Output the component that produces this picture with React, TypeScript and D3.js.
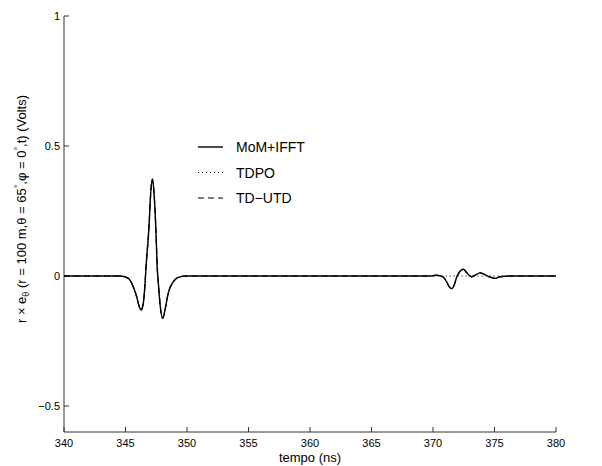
import React from "react";
import * as d3 from "d3";

// ---- data ----
const xTicks = [340, 345, 350, 355, 360, 365, 370, 375, 380];
const yTicks = [-0.5, 0, 0.5, 1];
const yTickLabels = ["\u22120.5", "0", "0.5", "1"];

const momTime = [340, 344.55, 345.23, 345.63, 345.91, 346.12, 346.26, 346.45, 346.59, 346.67, 346.91, 347.05, 347.18, 347.32, 347.46, 347.59, 347.67, 347.8, 348.02, 348.21, 348.48, 348.89, 349.29, 349.98, 360, 368.13, 369.76, 370.3, 370.84, 371.11, 371.33, 371.52, 371.71, 371.93, 372.2, 372.47, 372.74, 373.01, 373.15, 373.41, 373.82, 374.23, 374.63, 375.04, 375.45, 376.26, 380];
const momVal = [0, 0, -0.009, -0.041, -0.08, -0.118, -0.131, -0.104, -0.027, 0.035, 0.19, 0.319, 0.373, 0.319, 0.19, 0.023, -0.027, -0.104, -0.163, -0.131, -0.065, -0.022, -0.005, 0, 0, 0, 0, 0.003, -0.004, -0.023, -0.042, -0.049, -0.036, -0.004, 0.018, 0.026, 0.013, 0, -0.003, 0.003, 0.012, 0.005, -0.004, -0.009, -0.003, 0, 0];

const tdpoTime = [340, 344.55, 345.23, 345.63, 345.91, 346.12, 346.26, 346.45, 346.59, 346.67, 346.91, 347.05, 347.18, 347.32, 347.46, 347.59, 347.67, 347.8, 348.02, 348.21, 348.48, 348.89, 349.29, 349.98, 360, 370, 380];
const tdpoVal = [0, 0, -0.009, -0.041, -0.08, -0.118, -0.131, -0.104, -0.027, 0.035, 0.19, 0.319, 0.373, 0.319, 0.19, 0.023, -0.027, -0.104, -0.163, -0.131, -0.065, -0.022, -0.005, 0, 0, 0, 0];

const utdTime = momTime;
const utdVal = [0, 0, -0.009, -0.041, -0.08, -0.118, -0.131, -0.104, -0.027, 0.035, 0.19, 0.319, 0.373, 0.319, 0.19, 0.023, -0.027, -0.104, -0.163, -0.131, -0.065, -0.022, -0.005, 0, 0, 0, 0, 0.003, -0.004, -0.023, -0.042, -0.049, -0.036, -0.004, 0.018, 0.026, 0.013, 0, -0.003, 0.003, 0.012, 0.005, -0.004, -0.009, -0.003, 0, 0];

const seriesNames = ["MoM+IFFT", "TDPO", "TD\u2212UTD"];

export default function App() {
  const W = 602, H = 466;
  const left = 64, right = 556, top = 16, bottom = 432;
  const x = d3.scaleLinear().domain([340, 380]).range([left, right]);
  const y = d3.scaleLinear().domain([-0.6, 1]).range([bottom, top]);

  const mk = (ts: number[], vs: number[]) =>
    d3
      .line<number>()
      .x((_, i) => x(ts[i]))
      .y((v) => y(v))
      .curve(d3.curveMonotoneX)(vs) || "";

  const series = [
    { d: mk(momTime, momVal), dash: undefined as string | undefined, w: 1.4 },
    { d: mk(tdpoTime, tdpoVal), dash: "1,3", w: 1 },
    { d: mk(utdTime, utdVal), dash: "6,4", w: 1.2 },
  ];

  const font = "'Liberation Sans', Arial, Helvetica, sans-serif";
  const axisColor = "#333";
  const legendY = [147, 172.5, 198];

  return (
    <svg
      width={W}
      height={H}
      style={{ position: "absolute", left: 0, top: 0, background: "#fff" }}
      fontFamily={font}
    >
      <rect x={0} y={0} width={W} height={H} fill="#fff" />
      {/* axes */}
      <line x1={left} x2={right} y1={bottom} y2={bottom} stroke={axisColor} strokeWidth={1} />
      <line x1={left} x2={left} y1={top} y2={bottom} stroke={axisColor} strokeWidth={1} />
      {xTicks.map((t) => (
        <g key={"x" + t}>
          <line x1={x(t)} x2={x(t)} y1={bottom} y2={bottom - 5} stroke={axisColor} />
          <text x={x(t)} y={447} fontSize={11} textAnchor="middle" fill="#000">
            {t}
          </text>
        </g>
      ))}
      {yTicks.map((t, i) => (
        <g key={"y" + t}>
          <line x1={left} x2={left + 5} y1={y(t)} y2={y(t)} stroke={axisColor} />
          <text x={60} y={y(t) + 4} fontSize={11} textAnchor="end" fill="#000">
            {yTickLabels[i]}
          </text>
        </g>
      ))}
      <text x={(left + right) / 2 - 0} y={462} fontSize={13} textAnchor="middle" fill="#000">
        tempo (ns)
      </text>
      <text
        transform="translate(26,209) rotate(-90)"
        fontSize={13}
        textAnchor="middle"
        fill="#000"
      >
        <tspan>r × e</tspan>
        <tspan dy={3} fontSize={9}>θ</tspan>
        <tspan dy={-3}> (r = 100 m,θ = 65</tspan>
        <tspan dy={-5} fontSize={9}>°</tspan>
        <tspan dy={5}>,φ = 0</tspan>
        <tspan dy={-5} fontSize={9}>°</tspan>
        <tspan dy={5}>,t) (Volts)</tspan>
      </text>
      {/* data */}
      {series.map((s, i) => (
        <path
          key={i}
          d={s.d}
          fill="none"
          stroke="#000"
          strokeWidth={s.w}
          strokeDasharray={s.dash}
          strokeLinejoin="round"
        />
      ))}
      {/* legend */}
      {seriesNames.map((n, i) => (
        <g key={n}>
          <line
            x1={198}
            x2={223}
            y1={legendY[i]}
            y2={legendY[i]}
            stroke="#000"
            strokeWidth={series[i].w}
            strokeDasharray={series[i].dash}
          />
          <text x={236} y={legendY[i] + 5} fontSize={14} fill="#000">
            {n}
          </text>
        </g>
      ))}
    </svg>
  );
}
